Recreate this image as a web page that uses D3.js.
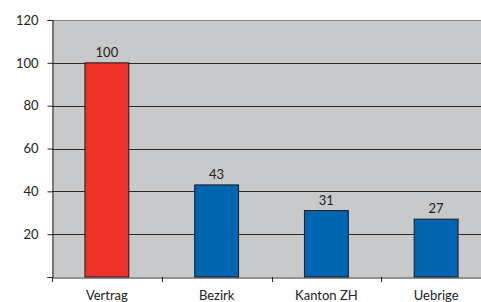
<!DOCTYPE html>
<html><head><meta charset="utf-8">
<script src="https://cdn.jsdelivr.net/npm/d3@7"></script>
<style>body{margin:0;background:#fff;overflow:hidden}svg{display:block}</style>
</head><body>
<script>
const categories = ["Vertrag", "Bezirk", "Kanton ZH", "Uebrige"];
const values = [100, 43, 31, 27];
const barColors = ["#ee3129", "#0065b1", "#0065b1", "#0065b1"];
const yTicks = [0, 20, 40, 60, 80, 100, 120];

const W = 481, H = 302;
const m = {left: 52, top: 20, right: -10, bottom: 25};
const svg = d3.select("body").append("svg").attr("width", W).attr("height", H);
const x = d3.scaleBand().domain(categories).range([m.left, W - m.right]).paddingInner(0).paddingOuter(0);
const y = d3.scaleLinear().domain([0, 120]).range([H - m.bottom, m.top]);
const font = "Lato, 'Open Sans', sans-serif";

svg.append("rect").attr("x", m.left).attr("y", m.top)
  .attr("width", W - m.right - m.left).attr("height", y(0) - m.top)
  .attr("fill", "#c8c9cb");
svg.append("line").attr("x1", m.left).attr("x2", W).attr("y1", m.top + 0.5).attr("y2", m.top + 0.5)
  .attr("stroke", "#8a8a8c").attr("stroke-width", 1);

svg.append("g").selectAll("line").data(yTicks.filter(t => t > 0 && t < 120)).join("line")
  .attr("x1", m.left).attr("x2", W).attr("y1", d => Math.round(y(d)) + 0.5).attr("y2", d => Math.round(y(d)) + 0.5)
  .attr("stroke", "#2a2a2a").attr("stroke-width", 1);

svg.append("g").selectAll("rect").data(values).join("rect")
  .attr("x", (d, i) => x(categories[i]) + x.bandwidth() * 0.3)
  .attr("width", x.bandwidth() * 0.4)
  .attr("y", d => y(d))
  .attr("height", d => y(0) - y(d))
  .attr("fill", (d, i) => barColors[i])
  .attr("stroke", "#1a1a1a").attr("stroke-width", 1);

svg.append("g").selectAll("text").data(values).join("text")
  .attr("x", (d, i) => x(categories[i]) + x.bandwidth() / 2)
  .attr("y", d => y(d) - 6)
  .attr("text-anchor", "middle").attr("font-family", font).attr("font-size", 13).attr("fill", "#222")
  .text(d => d);

const yAxis = svg.append("g").attr("transform", `translate(${m.left + 0.5},0)`)
  .call(d3.axisLeft(y).tickValues(yTicks).tickSize(5).tickPadding(9).tickFormat(d => d === 0 ? "" : d));
yAxis.select(".domain").attr("stroke", "#222");
yAxis.selectAll(".tick line").attr("stroke", "#222");
yAxis.selectAll("text").attr("font-family", font).attr("font-size", 13).attr("fill", "#222");

const xAxis = svg.append("g").attr("transform", `translate(0,${Math.round(y(0)) + 0.5})`)
  .call(d3.axisBottom(x).tickSize(0).tickPadding(13));
xAxis.select(".domain").attr("stroke", "#222");
xAxis.selectAll("text").attr("font-family", font).attr("font-size", 13).attr("fill", "#222");
svg.append("g").selectAll("line").data(categories).join("line")
  .attr("x1", d => Math.round(x(d)) + 0.5).attr("x2", d => Math.round(x(d)) + 0.5)
  .attr("y1", Math.round(y(0))).attr("y2", Math.round(y(0)) + 5)
  .attr("stroke", "#222");
</script>
</body></html>
